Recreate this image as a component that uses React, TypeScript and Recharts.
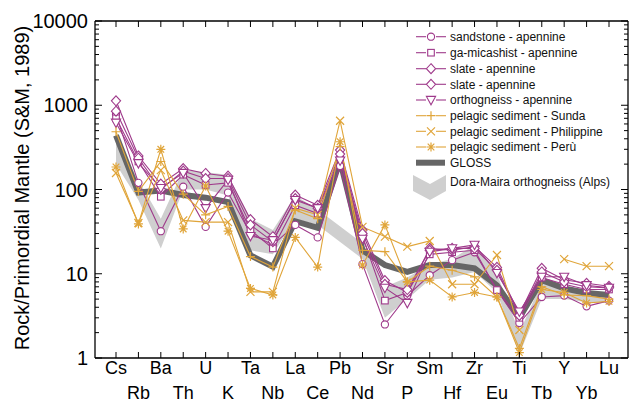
import React from "react";
import { ComposedChart, Line, Area, XAxis, YAxis } from "recharts";

const elements = ["Cs", "Rb", "Ba", "Th", "U", "K", "Ta", "Nb", "La", "Ce", "Pb", "Nd", "Sr", "P", "Sm", "Hf", "Zr", "Eu", "Ti", "Tb", "Y", "Yb", "Lu"];

const sandstone = [780, 120, 32, 108, 36, 92, 30, 22, 38, 27, 190, 13, 2.5, 5.5, 9.6, 14.5, 18, 6.4, 2.6, 5.3, 5.5, 4.1, 4.8];
const micashist = [700, 215, 82, 150, 113, 120, 33, 20, 65, 52, 240, 28, 4.8, 6, 17, 18, 19, 6.4, 3, 9, 7.5, 6.5, 6.5];
const slate1 = [1130, 250, 116, 177, 155, 144, 44, 27.5, 86, 65, 294, 33, 8.3, 6, 20, 19, 21, 11.9, 3.3, 11.6, 8.5, 7.7, 7.1];
const slate2 = [850, 235, 100, 165, 135, 135, 38, 24, 78, 60, 263, 30, 7.5, 6.5, 19, 20, 20, 11, 3.2, 10.5, 8, 7, 6.8];
const orthogneiss = [620, 205, 104, 157, 60, 130, 28, 25, 75, 60, 220, 26, 6.8, 4.5, 18.2, 20, 22, 10.2, 3.55, 9.2, 9.2, 7.3, 6.8];
const sunda = [485, 95, 215, 88, 50, 63, 16, 12, 57, 45, 323, 19, 18.3, 8, 12.3, 11, 9.2, 5.3, 1.3, 7, 5.6, 5.5, 5];
const philippine = [157, 40, 170, 43, 41, 41, 6.1, 6.1, 60, 50, 655, 36, 27.6, 21, 24.5, 7.5, 7.5, 16.7, 2.15, null, 14.9, 12.3, 12.3];
const peru = [185, 39, 300, 34, 110, 32, 6.7, 5.6, 27, 12, 369, 12.7, 38, 8, 8.4, 5.3, 6, 5.3, 1.16, 6.5, 6, 4.5, 4.7];
const gloss = [440, 92, 97, 86, 80, 71, 16.5, 12.1, 42, 35, 220, 19, 12.7, 10.5, 12.7, 12.7, 11.6, 7.3, 3, 8.4, 6.7, 5.9, 5.6];
const doraLow = [200, 75, 20, 100, 100, 85, 19, 17, 45, 38, null, 15, 3, 5, 8.5, 9, 10.5, 6, 1.1, 5, 5, 4.6, 4.5];
const doraHigh = [380, 130, 45, 170, 160, 150, 45, 33, 85, 58, null, 23, 7, 9, 13, 15, 22, 10, 2, 8, 7, 6, 6];

const PURPLE = "#9f3a8b";
const ORANGE = "#e0a53a";
const FONT = "Arial, 'Liberation Sans', sans-serif";

const series = [
    { key: "sandstone", name: "sandstone - apennine", values: sandstone, color: PURPLE, shape: "circle" },
    { key: "micashist", name: "ga-micashist - apennine", values: micashist, color: PURPLE, shape: "square" },
    { key: "slate1", name: "slate - apennine", values: slate1, color: PURPLE, shape: "diamond" },
    { key: "slate2", name: "slate - apennine", values: slate2, color: PURPLE, shape: "diamond" },
    { key: "orthogneiss", name: "orthogneiss - apennine", values: orthogneiss, color: PURPLE, shape: "tri" },
    { key: "sunda", name: "pelagic sediment - Sunda", values: sunda, color: ORANGE, shape: "plus" },
    { key: "philippine", name: "pelagic sediment - Philippine", values: philippine, color: ORANGE, shape: "x" },
    { key: "peru", name: "pelagic sediment - Perù", values: peru, color: ORANGE, shape: "star" },
];

const data = elements.map((el, i) => {
    const row: any = { el, gloss: gloss[i] };
    series.forEach((s) => (row[s.key] = s.values[i]));
    row.dora = doraLow[i] == null ? null : [doraLow[i], doraHigh[i]];
    return row;
});

const yTicks: number[] = [];
for (let d = 0; d < 4; d++) for (let m = 1; m < 10; m++) yTicks.push(m * Math.pow(10, d));
yTicks.push(10000);

const isMajor = (v: number) => Math.abs(Math.log10(v) - Math.round(Math.log10(v))) < 1e-9;

const PLOT_L = 95;
const PLOT_R = 628;
const PLOT_T = 21;
const PLOT_B = 358;

const Marker = ({ shape, x, y, color }: any) => {
    const c = { stroke: color, strokeWidth: 1.1, fill: "#fff" };
    switch (shape) {
        case "circle":
            return <circle cx={x} cy={y} r={3.6} {...c} />;
        case "square":
            return <rect x={x - 3.3} y={y - 3.3} width={6.6} height={6.6} {...c} />;
        case "diamond":
            return <polygon points={`${x},${y - 5} ${x + 4.6},${y} ${x},${y + 5} ${x - 4.6},${y}`} {...c} />;
        case "tri":
            return <polygon points={`${x - 4.6},${y - 3.6} ${x + 4.6},${y - 3.6} ${x},${y + 4.8}`} {...c} />;
        case "plus":
            return <path d={`M${x - 4.5},${y}H${x + 4.5}M${x},${y - 4.5}V${y + 4.5}`} stroke={color} strokeWidth={1.2} fill="none" />;
        case "x":
            return <path d={`M${x - 4},${y - 4}L${x + 4},${y + 4}M${x - 4},${y + 4}L${x + 4},${y - 4}`} stroke={color} strokeWidth={1.2} fill="none" />;
        default:
            return (
                <path
                    d={`M${x - 4.5},${y}H${x + 4.5}M${x},${y - 4.5}V${y + 4.5}M${x - 3.3},${y - 3.3}L${x + 3.3},${y + 3.3}M${x - 3.3},${y + 3.3}L${x + 3.3},${y - 3.3}`}
                    stroke={color}
                    strokeWidth={1.2}
                    fill="none"
                />
            );
    }
};

const makeDot = (shape: string, color: string) => (props: any) => {
    const { cx, cy, index } = props;
    if (cx == null || cy == null || isNaN(cy)) return <g key={index} />;
    return (
        <g key={index}>
            <Marker shape={shape} x={cx} y={cy} color={color} />
        </g>
    );
};

const BottomTick = (props: any) => {
    const { x, payload } = props;
    const i = elements.indexOf(payload.value);
    return (
        <g>
            <line x1={x} x2={x} y1={PLOT_B} y2={PLOT_B - 6} stroke="#000" strokeWidth={1} />
            <text x={x} y={i % 2 === 0 ? 374 : 399} textAnchor="middle" fontSize={18} fontFamily={FONT} fill="#000">
                {payload.value}
            </text>
        </g>
    );
};

const TopTick = (props: any) => {
    const { x } = props;
    return <line x1={x} x2={x} y1={PLOT_T} y2={PLOT_T + 6} stroke="#000" strokeWidth={1} />;
};

const LeftTick = (props: any) => {
    const { y, payload } = props;
    const major = isMajor(payload.value);
    return (
        <g>
            <line x1={PLOT_L} x2={PLOT_L + (major ? 7 : 4)} y1={y} y2={y} stroke="#000" strokeWidth={1} />
            {major && (
                <text x={88} y={y} dy="0.36em" textAnchor="end" fontSize={20} fontFamily={FONT} fill="#000">
                    {payload.value}
                </text>
            )}
        </g>
    );
};

const RightTick = (props: any) => {
    const { y, payload } = props;
    const major = isMajor(payload.value);
    return <line x1={PLOT_R} x2={PLOT_R - (major ? 7 : 4)} y1={y} y2={y} stroke="#000" strokeWidth={1} />;
};

const legendRows = [36.7, 52.7, 68.7, 84.3, 100, 115.7, 131.3, 147, 162.7];

const App: React.FC = () => {
    return (
        <div style={{ position: "absolute", left: 0, top: 0, width: 630, height: 407, background: "#fff", fontFamily: FONT }}>
            <ComposedChart width={630} height={407} data={data} margin={{ top: 0, right: 1, bottom: 0, left: 0 }}>
                <XAxis
                    dataKey="el"
                    height={49}
                    padding={{ left: 21, right: 19 }}
                    interval={0}
                    tickLine={false}
                    tickSize={0}
                    tickMargin={0}
                    tick={<BottomTick />}
                    axisLine={{ stroke: "#000", strokeWidth: 1.3 }}
                />
                <XAxis
                    xAxisId="top"
                    orientation="top"
                    dataKey="el"
                    height={PLOT_T}
                    padding={{ left: 21, right: 19 }}
                    interval={0}
                    tickLine={false}
                    tickSize={0}
                    tick={<TopTick />}
                    axisLine={{ stroke: "#000", strokeWidth: 1.3 }}
                />
                <YAxis
                    scale="log"
                    domain={[1, 10000]}
                    ticks={yTicks}
                    interval={0}
                    allowDataOverflow
                    width={PLOT_L}
                    tickLine={false}
                    tickSize={0}
                    tick={<LeftTick />}
                    axisLine={{ stroke: "#000", strokeWidth: 1.3 }}
                />
                <YAxis
                    yAxisId="r"
                    orientation="right"
                    scale="log"
                    domain={[1, 10000]}
                    ticks={yTicks}
                    interval={0}
                    allowDataOverflow
                    width={1}
                    tickLine={false}
                    tickSize={0}
                    tick={<RightTick />}
                    axisLine={{ stroke: "#000", strokeWidth: 1.3 }}
                />
                <Area
                    dataKey="dora"
                    type="linear"
                    fill="#cfcfcf"
                    fillOpacity={1}
                    stroke="none"
                    connectNulls
                    isAnimationActive={false}
                />
                <Line dataKey="gloss" type="linear" stroke="#666666" strokeWidth={6} dot={false} isAnimationActive={false} />
                {series.map((s) => (
                    <Line
                        key={s.key}
                        dataKey={s.key}
                        type="linear"
                        stroke={s.color}
                        strokeWidth={1.1}
                        dot={makeDot(s.shape, s.color)}
                        isAnimationActive={false}
                    />
                ))}
            </ComposedChart>
            <svg width={630} height={407} style={{ position: "absolute", left: 0, top: 0, pointerEvents: "none" }}>
                <text
                    transform="translate(29,188) rotate(-90)"
                    textAnchor="middle"
                    fontSize={20}
                    fontFamily={FONT}
                    fill="#000"
                >
                    Rock/Primordial Mantle (S&amp;M, 1989)
                </text>
                {series.map((s, i) => (
                    <g key={s.key}>
                        <line x1={416} x2={426} y1={legendRows[i]} y2={legendRows[i]} stroke={s.color} strokeWidth={1.1} />
                        <line x1={436} x2={446} y1={legendRows[i]} y2={legendRows[i]} stroke={s.color} strokeWidth={1.1} />
                        <Marker shape={s.shape} x={431} y={legendRows[i]} color={s.color} />
                        <text x={450} y={legendRows[i]} dy="0.35em" fontSize={12} fontFamily={FONT} fill="#111">
                            {s.name}
                        </text>
                    </g>
                ))}
                <line x1={416} x2={445} y1={legendRows[8]} y2={legendRows[8]} stroke="#666666" strokeWidth={6} />
                <text x={450} y={legendRows[8]} dy="0.35em" fontSize={12} fontFamily={FONT} fill="#111">
                    GLOSS
                </text>
                <polygon points="413,175 430,184 446,175 446,191 430,200 413,191" fill="#cfcfcf" />
                <text x={450} y={181.7} dy="0.35em" fontSize={12} fontFamily={FONT} fill="#111">
                    Dora-Maira orthogneiss (Alps)
                </text>
            </svg>
        </div>
    );
};

export default App;
